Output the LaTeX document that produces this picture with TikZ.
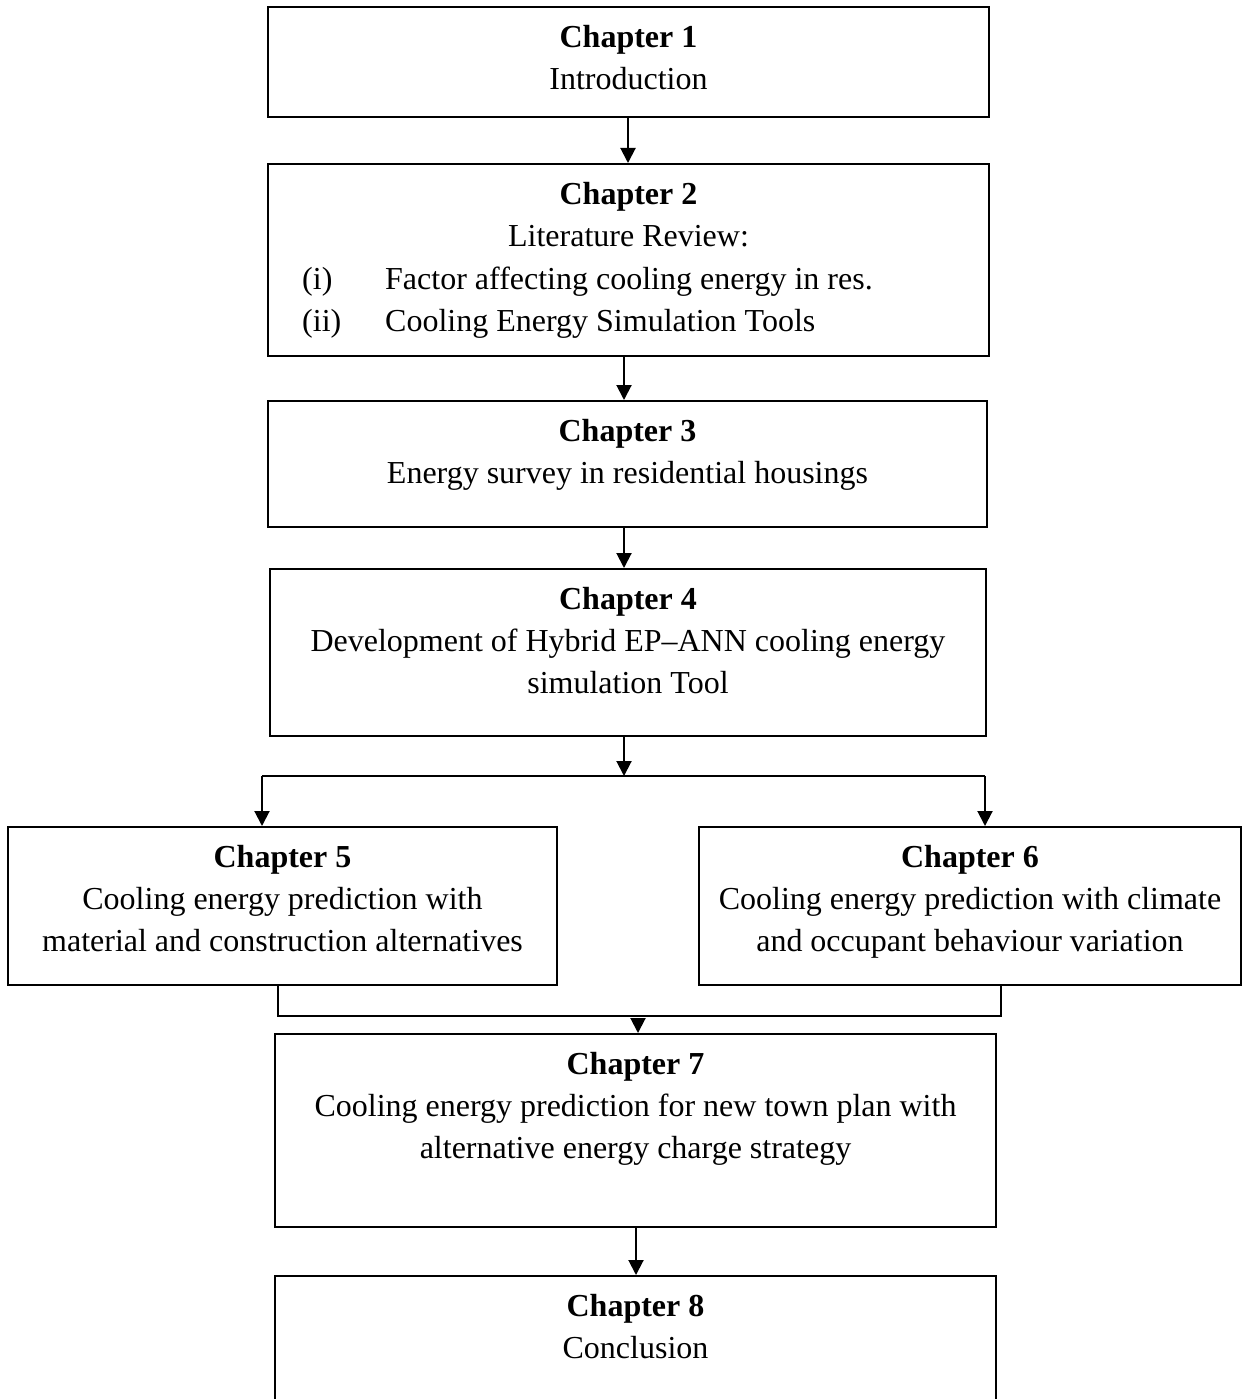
\documentclass[tikz,border=0pt]{standalone}
\usepackage{fontspec}
\setmainfont{Liberation Serif}
\usetikzlibrary{arrows.meta,calc}
\newcommand{\fst}{\rule{0pt}{24pt}}
\begin{document}
\begin{tikzpicture}[x=1pt,y=-1pt,
  box/.style={draw, line width=2pt, inner sep=0pt},
  txt/.style={align=center, inner sep=0pt, anchor=north, font=\fontsize{32}{42}\selectfont},
  itm/.style={inner sep=0pt, anchor=base west, font=\fontsize{32}{42}\selectfont},
  conn/.style={line width=2pt},
  arr/.style={line width=2pt, -{Triangle[length=15pt,width=15pt]}},
]
\useasboundingbox (0,0) rectangle (1247,1399);
\clip (0,0) rectangle (1247,1399);

% boxes
\node[box, minimum width=721pt, minimum height=110pt] (c1) at (628.5,62) {};
\node[box, minimum width=721pt, minimum height=192pt] (c2) at (628.5,260) {};
\node[box, minimum width=719pt, minimum height=126pt] (c3) at (627.5,464) {};
\node[box, minimum width=716pt, minimum height=167pt] (c4) at (628,652.5) {};
\node[box, minimum width=549pt, minimum height=158pt] (c5) at (282.5,906) {};
\node[box, minimum width=542pt, minimum height=158pt] (c6) at (970,906) {};
\node[box, minimum width=721pt, minimum height=193pt] (c7) at (635.5,1130.5) {};
\node[box, minimum width=721pt, minimum height=144pt] (c8) at (635.5,1348) {};

% texts
\node[txt] (t1) at ($(c1.north)+(0,17)$) {\fst\textbf{Chapter 1}\\Introduction};
\node[txt] (t2) at ($(c2.north)+(0,17)$) {\fst\textbf{Chapter 2}\\Literature Review:};
\node[itm] (t2i) at (302,289) {\makebox[83pt][l]{(i)}Factor affecting cooling energy in res.};
\node[itm] (t2ii) at (302,331) {\makebox[83pt][l]{(ii)}Cooling Energy Simulation Tools};
\node[txt] (t3) at ($(c3.north)+(0,17)$) {\fst\textbf{Chapter 3}\\Energy survey in residential housings};
\node[txt] (t4) at ($(c4.north)+(0,17)$) {\fst\textbf{Chapter 4}\\Development of Hybrid EP--ANN cooling energy\\simulation Tool};
\node[txt] (t5) at ($(c5.north)+(0,17)$) {\fst\textbf{Chapter 5}\\Cooling energy prediction with\\material and construction alternatives};
\node[txt] (t6) at ($(c6.north)+(0,17)$) {\fst\textbf{Chapter 6}\\Cooling energy prediction with climate\\and occupant behaviour variation};
\node[txt] (t7) at ($(c7.north)+(0,17)$) {\fst\textbf{Chapter 7}\\Cooling energy prediction for new town plan with\\alternative energy charge strategy};
\node[txt] (t8) at ($(c8.north)+(0,17)$) {\fst\textbf{Chapter 8}\\Conclusion};

% connectors
\draw[arr] ([xshift=-0.5pt]c1.south) -- ([xshift=-0.5pt]c2.north);
\draw[arr] ([xshift=-4.5pt]c2.south) -- ([xshift=-3.5pt]c3.north);
\draw[arr] ([xshift=-3.5pt]c3.south) -- ([xshift=-4pt]c4.north);

\coordinate (j1) at (624,776);
\coordinate (jl) at (262,776);
\coordinate (jr) at (985,776);
\draw[arr] ([xshift=-4pt]c4.south) -- (j1);
\draw[conn] (jl) -- (jr);
\draw[arr] (jl) -- (jl |- c5.north);
\draw[arr] (jr) -- (jr |- c6.north);

\coordinate (ml) at (278,1016);
\coordinate (mr) at (1001,1016);
\coordinate (ms) at (638,1018);
\draw[conn] (ml |- c5.south) -- (ml) -- (mr) -- (mr |- c6.south);
\draw[arr] (ms) -- (ms |- c7.north);
\draw[arr] ([xshift=0.5pt]c7.south) -- ([xshift=0.5pt]c8.north);
\end{tikzpicture}
\end{document}
